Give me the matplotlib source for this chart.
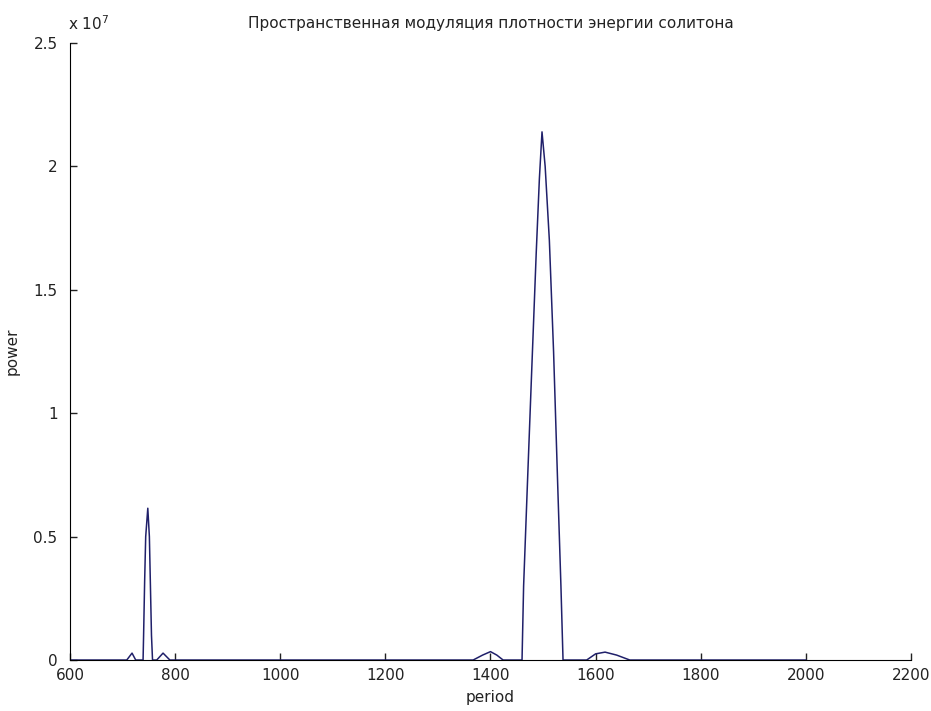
import matplotlib
matplotlib.use("Agg")
import matplotlib.pyplot as plt
from matplotlib.ticker import FuncFormatter

# period / power values
period = [600, 700, 708, 718, 725, 739, 740, 742, 744, 748, 751, 753, 755, 757,
          765, 777, 790, 1000, 1200, 1367, 1385, 1400, 1412, 1424, 1460, 1463,
          1470, 1478, 1487, 1493, 1498, 1504, 1512, 1520, 1528, 1534, 1538,
          1583, 1600, 1618, 1640, 1665, 1800, 2000]
power = [0, 0, 0, 2.8e5, 0, 0, 1.0e6, 3.2e6, 5.0e6, 6.15e6, 5.0e6, 3.0e6, 1.0e6, 0,
         0, 2.8e5, 0, 0, 0, 0, 2.0e5, 3.4e5, 2.0e5, 0, 0, 3.0e6,
         7.0e6, 11.5e6, 16.5e6, 19.5e6, 21.4e6, 20.0e6, 17.0e6, 12.5e6, 7.0e6, 3.0e6, 0,
         0, 2.5e5, 3.2e5, 2.0e5, 0, 0, 0]

x_ticks = [600, 800, 1000, 1200, 1400, 1600, 1800, 2000, 2200]
y_ticks = [0, 0.5e7, 1e7, 1.5e7, 2e7, 2.5e7]

plt.rcParams['font.family'] = ['DejaVu Sans']
fs = 11

fig = plt.figure(figsize=(9.31, 7.11), dpi=100)
ax = fig.add_axes([0.0752, 0.0717, 0.9033, 0.8678])

ax.plot(period, power, color='#20206a', linewidth=1.1)

ax.set_xlim(600, 2200)
ax.set_ylim(0, 2.5e7)
ax.set_xticks(x_ticks)
ax.set_yticks(y_ticks)
ax.yaxis.set_major_formatter(FuncFormatter(lambda v, p: '%g' % (v / 1e7)))

ax.spines['top'].set_visible(False)
ax.spines['right'].set_visible(False)
ax.tick_params(direction='in', length=5, width=1, labelsize=fs, colors='#222222')
ax.tick_params(axis='x', pad=6)
ax.tick_params(axis='y', pad=9)

ax.set_xlabel('period', fontsize=fs, labelpad=5, color='#222222')
ax.set_ylabel('power', fontsize=fs, labelpad=10, color='#222222')
ax.set_title('Пространственная модуляция плотности энергии солитона', fontsize=fs, pad=11,
             color='#222222')
fig.text(0.073, 0.958, r'x 10$^{7}$', fontsize=fs, color='#222222')

fig.savefig('out.png', dpi=100, facecolor='white')
